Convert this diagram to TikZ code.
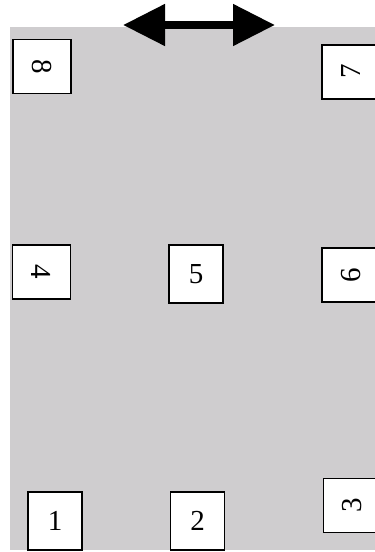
\documentclass[tikz,border=0pt]{standalone}
\usepackage{fontspec}
\setmainfont{Liberation Serif}
\usetikzlibrary{arrows.meta}
\definecolor{panelgray}{HTML}{CFCDCF}
\tikzset{
  padbox/.style = {draw, line width=1.6pt, fill=white, inner sep=0pt,
                   minimum width=54pt, minimum height=58pt,
                   font=\fontsize{29}{32}\selectfont},
  bidir/.style  = {line width=8pt,
                   {Triangle[length=42pt,width=40pt]}-{Triangle[length=42pt,width=40pt]}},
}
\begin{document}
\begin{tikzpicture}[x=1pt, y=-1pt]
\useasboundingbox (0,0) rectangle (375,552);
% ---------------- panel ----------------
\fill[panelgray] (10,27) rectangle (375,550);
% ---------------- sliding direction ----------------
\coordinate (slideL) at (123,25);
\coordinate (slideR) at (275,25);
\draw[bidir] (slideL) -- (slideR);
% ---------------- top row ----------------
\node[padbox, rotate=-90] (p8) at (42,66.5) {8};
\node[padbox, rotate=90]  (p7) at (350.7,71.7) {7};
% ---------------- middle row ----------------
\node[padbox, rotate=-90] (p4) at (41.5,271.7) {4};
\node[padbox]             (p5) at (196,274) {5};
\node[padbox, rotate=90]  (p6) at (350.7,275) {6};
% ---------------- bottom row ----------------
\node[padbox]             (p1) at (55,521) {1};
\node[padbox]             (p2) at (197.5,521) {2};
\node[padbox, rotate=90]  (p3) at (352.3,505.5) {3};
\end{tikzpicture}
\end{document}
